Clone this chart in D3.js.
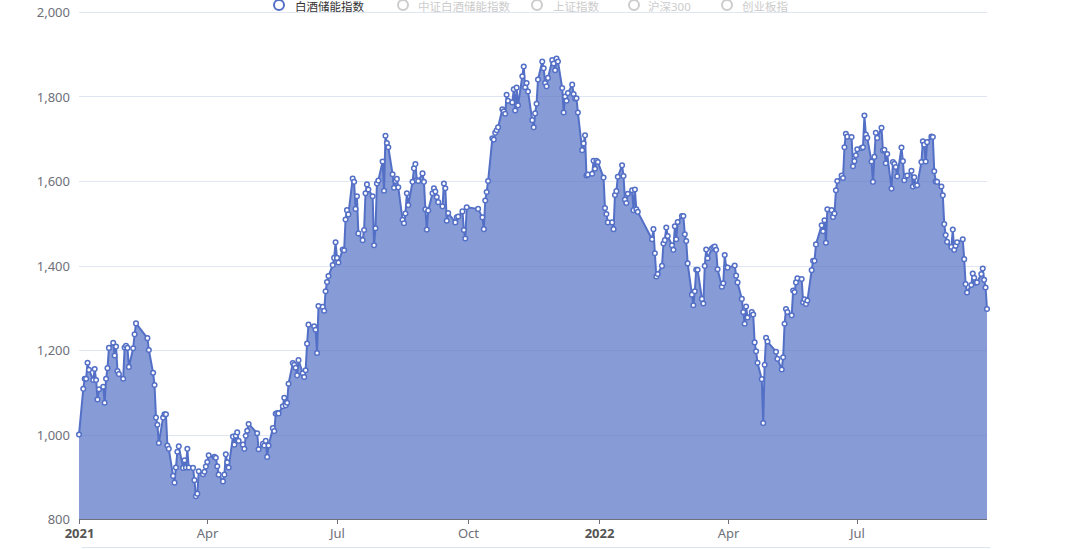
<!DOCTYPE html>
<html>
<head>
<meta charset="utf-8">
<script src="https://cdn.jsdelivr.net/npm/d3@7"></script>
<style>
  html, body { margin: 0; padding: 0; background: #fff; }
  svg { display: block; }
  text { font-family: "Noto Sans", "Noto Sans CJK SC", sans-serif; }
</style>
</head>
<body>
<svg id="chart" width="1080" height="549"></svg>
<script>
// ---------- data ----------
const seriesNames = ["白酒储能指数", "中证白酒储能指数", "上证指数", "沪深300", "创业板指"];
const activeSeries = [true, false, false, false, false];

const holidays = [
  "2021-02-11","2021-02-12","2021-02-15","2021-02-16","2021-02-17","2021-04-05",
  "2021-05-03","2021-05-04","2021-05-05","2021-06-14","2021-09-20","2021-09-21",
  "2021-10-01","2021-10-04","2021-10-05","2021-10-06","2021-10-07",
  "2022-01-03","2022-01-31","2022-02-01","2022-02-02","2022-02-03","2022-02-04",
  "2022-04-04","2022-04-05","2022-05-02","2022-05-03","2022-05-04","2022-06-03","2022-09-12"
];
const baseDate = "2021-01-01";
const firstTradingDay = "2021-01-04";
const lastTradingDay = "2022-09-30";

const baseValue = [1000];
const values2021 = [
  // Jan
  1108,1132,1132,1170,1153, 1129,1155,1129,1083,1107, 1113,1075,1132,1157,1205, 1217,1187,1208,1150,1143,
  // Feb
  1132,1206,1210,1205,1160, 1204,1237,1263, 1228,1200, 1146,1117,1040,1023,980,
  // Mar
  1040,1048,1048,974,966, 902,886,922,959,972, 921,939,922,966,922, 921,892,854,860,913, 906,912,924,
  // Apr
  935,951, 947,945,925,905, 889,905,953,934,922, 995,976,997,1005,985, 976,966,997,1009,1025,
  // May
  1003,965, 978,974,985,947,974, 1015,1008,1049,1051,1050, 1067,1087,1069,1075,1120, 1169,
  // Jun
  1165,1158,1140,1176, 1145,1136,1152,1215,1260, 1256,1248,1193,1304, 1302,1293,1339,1361,1375, 1401,1418,1455,
  // Jul
  1418,1407, 1438,1436,1509,1531,1521, 1606,1598,1534,1564,1476, 1460,1484,1571,1592,1580, 1564,1448,1488,1594,1601,
  // Aug
  1646,1577,1707,1690,1680, 1616,1584,1600,1605,1585, 1508,1500,1523,1571,1543, 1598,1630,1640,1602,1600, 1618,1598,
  // Sep
  1533,1485,1530, 1571,1583,1575,1562,1550, 1540,1594,1583,1506,1524, 1502,1514,1516, 1528,1484,1464,1538,
  // Oct
  1534, 1514,1486,1554,1574,1600, 1701,1698,1714,1720,1727, 1770,1765,1759,1804,1790,
  // Nov
  1786,1817,1767,1821,1779, 1848,1871,1822,1832,1812, 1744,1727,1760,1783,1840, 1883,1867,1832,1824,1844, 1886,1878,
  // Dec
  1862,1890,1883, 1820,1762,1800,1790,1808, 1828,1806,1795,1796,1762, 1673,1689,1708,1613,1615, 1617,1648,1629,1648,1645
];
const values2022 = [
  // Jan
  1608,1536,1522,1502, 1502,1486,1567,1576,1610, 1637,1612,1556,1548,1570, 1578,1531,1580,1533,1527,
  // Feb
  1462,1486,1429,1374,1380, 1399,1452,1460,1490,1470, 1448,1437,1493,1462,1503, 1517,
  // Mar
  1517,1474,1458,1405, 1331,1306,1339,1390,1390, 1321,1310,1399,1438,1417, 1440,1443,1445,1437,1391, 1350,1358,1425,1396,
  // Apr
  1395, 1400,1376,1360, 1321,1290,1262,1303,1277, 1290,1284,1218,1197,1170, 1131,1027,1165,1229,1220,
  // May
  1196,1179, 1154,1183,1262,1297,1290, 1282,1341,1337,1360,1370, 1368,1313,1320,1309,1317, 1389,1411,
  // Jun
  1411,1450, 1495,1481,1507,1454,1533, 1531,1515,1523,1578,1600, 1613,1607,1680,1712,1705, 1704,1635,1647,1661,
  // Jul
  1675, 1678,1680,1755,1710,1702, 1646,1598,1657,1714,1702, 1726,1672,1674,1642,1664, 1582,1645,1641,1633,1611,
  // Aug
  1679,1647,1602,1611,1613, 1624,1587,1609,1590,1590, 1645,1694,1686,1646,1692, 1705,1704,1623,1599,1598, 1587,1566,1498,
  // Sep
  1472,1456, 1444,1485,1437,1447,1455, 1462,1415,1356,1336, 1354,1381,1371,1359,1360, 1380,1393,1366,1348,1297
];

const yTicks = [800, 1000, 1200, 1400, 1600, 1800, 2000];
const xTickDates = ["2021-01-01","2021-04-01","2021-07-01","2021-10-01","2022-01-01","2022-04-01","2022-07-01"];
const xTickLabels = ["2021","Apr","Jul","Oct","2022","Apr","Jul"];
const xTickBold = [true,false,false,false,true,false,false];

(function draw() {
  // ---------- build trading calendar ----------
  const parse = d3.utcParse("%Y-%m-%d");
  const fmt = d3.utcFormat("%Y-%m-%d");
  const holidaySet = new Set(holidays);
  const dates = [parse(baseDate)];
  d3.utcDay.range(parse(firstTradingDay), d3.utcDay.offset(parse(lastTradingDay), 1)).forEach(d => {
    const wd = d.getUTCDay();
    if (wd !== 0 && wd !== 6 && !holidaySet.has(fmt(d))) dates.push(d);
  });
  const values = baseValue.concat(values2021, values2022);
  if (dates.length !== values.length) console.error("length mismatch", dates.length, values.length);
  const data = dates.map((d, i) => ({ date: d, value: values[i] })).filter(d => d.value != null);

  // ---------- layout ----------
  const svg = d3.select("#chart");
  const pL = 79, pR = 987, pT = 12, pB = 519;

  const x = d3.scaleUtc().domain([parse(baseDate), parse(lastTradingDay)]).range([pL, pR]);
  const y = d3.scaleLinear().domain([800, 2000]).range([pB, pT]);

  const mainColor = "#5470c6";
  const axisColor = "#6e7079";

  // grid lines
  svg.append("g").selectAll("line").data(yTicks.filter(t => t !== 800)).join("line")
    .attr("x1", pL).attr("x2", pR)
    .attr("y1", d => Math.round(y(d)) + 0.5).attr("y2", d => Math.round(y(d)) + 0.5)
    .attr("stroke", "#e0e6f1").attr("stroke-width", 1);

  // y axis labels
  svg.append("g").selectAll("text").data(yTicks).join("text")
    .attr("x", 70).attr("y", d => y(d))
    .attr("text-anchor", "end").attr("dominant-baseline", "central")
    .attr("fill", axisColor).attr("font-size", 13)
    .text(d => d3.format(",")(d));

  // area + line
  const area = d3.area().x(d => x(d.date)).y0(y(800)).y1(d => y(d.value));
  const line = d3.line().x(d => x(d.date)).y(d => y(d.value));
  svg.append("path").datum(data).attr("d", area)
    .attr("fill", mainColor).attr("fill-opacity", 0.7);
  svg.append("path").datum(data).attr("d", line)
    .attr("fill", "none").attr("stroke", mainColor).attr("stroke-width", 2)
    .attr("stroke-linejoin", "round");

  // markers
  svg.append("g").selectAll("circle").data(data).join("circle")
    .attr("cx", d => x(d.date)).attr("cy", d => y(d.value)).attr("r", 2.3)
    .attr("fill", "#fff").attr("stroke", mainColor).attr("stroke-width", 1.5);

  // x axis
  svg.append("line").attr("x1", pL).attr("x2", pR).attr("y1", pB + 0.5).attr("y2", pB + 0.5)
    .attr("stroke", axisColor).attr("stroke-width", 1);
  const xt = svg.append("g");
  xTickDates.forEach((s, i) => {
    const px = Math.round(x(parse(s))) + 0.5;
    xt.append("line").attr("x1", px).attr("x2", px).attr("y1", pB).attr("y2", pB + 5)
      .attr("stroke", axisColor);
    xt.append("text").attr("x", px).attr("y", 533)
      .attr("text-anchor", "middle").attr("dominant-baseline", "central")
      .attr("font-size", 13).attr("font-weight", xTickBold[i] ? "bold" : "normal")
      .attr("fill", xTickBold[i] ? "#555" : axisColor)
      .text(xTickLabels[i]);
  });

  // slider border at bottom
  svg.append("line").attr("x1", 82).attr("x2", 990).attr("y1", 547.5).attr("y2", 547.5)
    .attr("stroke", "#dbe3f3").attr("stroke-width", 1.2);

  // legend at the top edge
  const legendIconX = [279, 403, 537, 634, 727];
  const legendTextX = [295, 418, 553, 648, 742];
  const legendY = 6;
  const lg = svg.append("g");
  seriesNames.forEach((name, i) => {
    const col = activeSeries[i] ? mainColor : "#ccc";
    lg.append("circle").attr("cx", legendIconX[i]).attr("cy", legendY - 1).attr("r", 5)
      .attr("fill", "#fff").attr("stroke", col).attr("stroke-width", 2);
    lg.append("text").attr("x", legendTextX[i]).attr("y", legendY)
      .attr("dominant-baseline", "central").attr("font-size", 11.5)
      .attr("fill", activeSeries[i] ? "#333" : "#ccc")
      .text(name);
  });
})();
</script>
</body>
</html>
